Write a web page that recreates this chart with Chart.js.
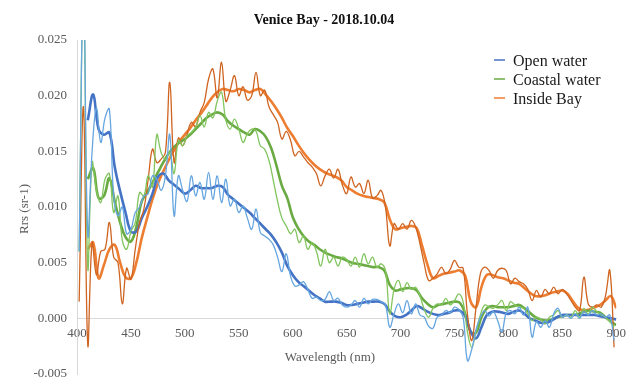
<!DOCTYPE html>
<html>
<head>
<meta charset="utf-8">
<script src="https://cdn.jsdelivr.net/npm/chart.js@4.4.1/dist/chart.umd.min.js"></script>
<style>
  html, body { margin: 0; padding: 0; background: #ffffff; }
  #chart { display: block; }
</style>
</head>
<body>
<canvas id="chart" width="633" height="379"></canvas>
<script>
// Wavelength grids (nm): raw spectra every 4 nm, smoothed spectra every 5 nm
const rawWave = [
  402,406,410,414,418,422,426,430,434,438,
  442,446,450,454,458,462,466,470,474,478,
  482,486,490,494,498,502,506,510,514,518,
  522,526,530,534,538,542,546,550,554,558,
  562,566,570,574,578,582,586,590,594,598,
  602,606,610,614,618,622,626,630,634,638,
  642,646,650,654,658,662,666,670,674,678,
  682,686,690,694,698,702,706,710,714,718,
  722,726,730,734,738,742,746,750,754,758,
  762,766,770,774,778,782,786,790,794,798,
  802,806,810,814,818,822,826,830,834,838,
  842,846,850,854,858,862,866,870,874,878,
  882,886,890,894,898
];
const smoothWave = [
  410,415,420,425,430,435,440,445,450,455,
  460,465,470,475,480,485,490,495,500,505,
  510,515,520,525,530,535,540,545,550,555,
  560,565,570,575,580,585,590,595,600,605,
  610,615,620,625,630,635,640,645,650,655,
  660,665,670,675,680,685,690,695,700,705,
  710,715,720,725,730,735,740,745,750,755,
  760,765,770,775,780,785,790,795,800,805,
  810,815,820,825,830,835,840,845,850,855,
  860,865,870,875,880,885,890,895,900
];

// Rrs (sr-1), raw spectra
const openRaw = [
  0.0060,0.0300,0.0075,0.0150,0.0189,0.0158,0.0180,0.0188,0.0110,0.0092,
  0.0100,0.0076,0.0080,0.0095,0.0100,0.0110,0.0112,0.0128,0.0125,0.0115,
  0.0128,0.0165,0.0092,0.0128,0.0115,0.0105,0.0128,0.0110,0.0122,0.0107,
  0.0131,0.0107,0.0128,0.0104,0.0125,0.0101,0.0107,0.0095,0.0101,0.0090,
  0.0080,0.0098,0.0077,0.0074,0.0071,0.0066,0.0055,0.0042,0.0058,0.0038,
  0.0029,0.0030,0.0033,0.0026,0.0018,0.0019,0.0016,0.0017,0.0024,0.0016,
  0.0018,0.0012,0.0010,0.0012,0.0016,0.0010,0.0018,0.0013,0.0017,0.0017,
  0.0015,0.0012,-0.0008,0.0004,0.0013,0.0005,0.0016,0.0004,0.0013,0.0003,
  0.0001,-0.0007,-0.0009,0.0001,0.0003,0.0007,0.0005,0.0010,0.0008,0.0001,
  -0.0038,-0.0028,-0.0010,0.0001,0.0007,0.0002,0.0006,-0.0002,-0.0012,0.0005,
  0.0007,0.0004,0.0010,0.0003,0.0010,-0.0017,-0.0003,-0.0008,-0.0002,-0.0008,
  0.0004,0.0009,0.0001,0.0003,0.0000,0.0004,0.0000,0.0006,0.0003,0.0007,
  0.0003,0.0004,0.0001,0.0003,-0.0020
];
const coastalRaw = [
  0.0060,0.0300,0.0045,0.0140,0.0115,0.0104,0.0125,0.0130,0.0095,0.0110,
  0.0070,0.0062,0.0078,0.0086,0.0113,0.0110,0.0128,0.0118,0.0165,0.0149,
  0.0143,0.0149,0.0130,0.0160,0.0155,0.0164,0.0167,0.0172,0.0182,0.0172,
  0.0185,0.0180,0.0195,0.0203,0.0178,0.0170,0.0179,0.0170,0.0158,0.0166,
  0.0170,0.0168,0.0155,0.0152,0.0142,0.0124,0.0105,0.0090,0.0083,0.0076,
  0.0080,0.0068,0.0074,0.0062,0.0068,0.0060,0.0047,0.0062,0.0050,0.0055,
  0.0047,0.0055,0.0053,0.0047,0.0055,0.0046,0.0058,0.0049,0.0055,0.0046,
  0.0049,0.0043,0.0004,0.0026,0.0034,0.0024,0.0032,0.0026,0.0028,0.0020,
  0.0008,0.0001,0.0009,0.0013,0.0012,0.0018,0.0012,0.0016,0.0022,0.0015,
  -0.0012,-0.0026,-0.0012,0.0003,0.0012,0.0010,0.0009,0.0012,0.0016,0.0007,
  0.0015,0.0012,0.0010,0.0009,0.0004,-0.0002,0.0001,-0.0001,-0.0005,0.0001,
  0.0003,0.0007,0.0001,0.0003,0.0001,0.0007,0.0001,0.0009,0.0004,0.0010,
  0.0006,0.0003,0.0001,-0.0003,-0.0008
];
const bayRaw = [
  0.0015,0.0190,-0.0024,0.0068,0.0039,0.0060,0.0062,0.0086,0.0055,0.0050,
  0.0013,0.0045,0.0035,0.0062,0.0086,0.0098,0.0125,0.0152,0.0140,0.0143,
  0.0149,0.0212,0.0140,0.0162,0.0155,0.0165,0.0176,0.0172,0.0185,0.0194,
  0.0215,0.0224,0.0198,0.0230,0.0195,0.0205,0.0218,0.0200,0.0208,0.0196,
  0.0200,0.0221,0.0200,0.0205,0.0190,0.0183,0.0176,0.0161,0.0168,0.0160,
  0.0146,0.0150,0.0145,0.0140,0.0136,0.0130,0.0119,0.0128,0.0134,0.0126,
  0.0134,0.0120,0.0112,0.0127,0.0118,0.0121,0.0112,0.0124,0.0108,0.0110,
  0.0115,0.0100,0.0065,0.0085,0.0080,0.0085,0.0080,0.0088,0.0082,0.0067,
  0.0049,0.0034,0.0036,0.0040,0.0046,0.0040,0.0044,0.0052,0.0046,0.0045,
  0.0004,-0.0020,0.0010,0.0040,0.0046,0.0043,0.0036,0.0043,0.0045,0.0043,
  0.0031,0.0036,0.0033,0.0031,0.0026,0.0016,0.0025,0.0019,0.0026,0.0022,
  0.0028,0.0022,0.0026,0.0022,0.0016,0.0010,0.0007,0.0037,0.0013,0.0010,
  0.0012,0.0010,0.0020,0.0043,-0.0026
];

// Rrs (sr-1), smoothed spectra
const openSmooth = [
  0.0178,0.0201,0.0170,0.0165,0.0167,0.0136,0.0114,0.0095,0.0078,0.0078,
  0.0090,0.0100,0.0112,0.0127,0.0130,0.0124,0.0120,0.0116,0.0112,0.0115,
  0.0119,0.0117,0.0117,0.0117,0.0119,0.0118,0.0111,0.0107,0.0103,0.0099,
  0.0095,0.0090,0.0085,0.0080,0.0075,0.0068,0.0059,0.0047,0.0039,0.0033,
  0.0029,0.0025,0.0021,0.0018,0.0015,0.0015,0.0015,0.0014,0.0012,0.0012,
  0.0013,0.0014,0.0015,0.0015,0.0015,0.0013,0.0006,0.0002,0.0001,0.0003,
  0.0007,0.0011,0.0009,0.0006,0.0004,0.0003,0.0004,0.0005,0.0007,0.0007,
  0.0002,-0.0012,-0.0018,-0.0008,0.0003,0.0006,0.0006,0.0005,0.0004,0.0006,
  0.0007,0.0004,0.0000,-0.0002,-0.0004,-0.0004,-0.0002,0.0001,0.0003,0.0003,
  0.0003,0.0003,0.0003,0.0003,0.0003,0.0002,0.0001,0.0000,-0.0001
];
const coastalSmooth = [
  0.0125,0.0135,0.0108,0.0110,0.0126,0.0105,0.0086,0.0073,0.0069,0.0082,
  0.0105,0.0113,0.0122,0.0131,0.0140,0.0148,0.0154,0.0158,0.0161,0.0165,
  0.0170,0.0175,0.0180,0.0183,0.0185,0.0183,0.0177,0.0173,0.0170,0.0167,
  0.0165,0.0170,0.0168,0.0163,0.0153,0.0137,0.0119,0.0108,0.0091,0.0081,
  0.0074,0.0069,0.0066,0.0062,0.0059,0.0057,0.0055,0.0054,0.0052,0.0050,
  0.0049,0.0048,0.0047,0.0046,0.0046,0.0043,0.0030,0.0025,0.0026,0.0027,
  0.0027,0.0025,0.0018,0.0013,0.0010,0.0012,0.0013,0.0014,0.0015,0.0014,
  0.0004,-0.0012,-0.0013,0.0001,0.0009,0.0011,0.0010,0.0010,0.0010,0.0011,
  0.0012,0.0009,0.0005,0.0001,-0.0001,-0.0002,-0.0001,0.0001,0.0002,0.0003,
  0.0003,0.0004,0.0006,0.0007,0.0006,0.0005,0.0001,-0.0003,-0.0006
];
const baySmooth = [
  0.0062,0.0068,0.0036,0.0048,0.0062,0.0066,0.0050,0.0037,0.0036,0.0050,
  0.0072,0.0090,0.0107,0.0121,0.0132,0.0142,0.0151,0.0159,0.0165,0.0171,
  0.0178,0.0184,0.0191,0.0198,0.0203,0.0206,0.0205,0.0204,0.0206,0.0205,
  0.0203,0.0205,0.0206,0.0201,0.0195,0.0188,0.0180,0.0171,0.0164,0.0156,
  0.0149,0.0143,0.0138,0.0134,0.0131,0.0129,0.0127,0.0124,0.0118,0.0115,
  0.0112,0.0110,0.0109,0.0108,0.0107,0.0104,0.0089,0.0080,0.0081,0.0082,
  0.0083,0.0081,0.0065,0.0048,0.0036,0.0038,0.0040,0.0041,0.0042,0.0043,
  0.0038,0.0015,0.0010,0.0028,0.0039,0.0039,0.0037,0.0036,0.0034,0.0032,
  0.0031,0.0027,0.0023,0.0020,0.0020,0.0021,0.0023,0.0024,0.0025,0.0022,
  0.0015,0.0009,0.0007,0.0008,0.0010,0.0012,0.0016,0.0020,0.0009
];

const seriesNames = ['Open water', 'Coastal water', 'Inside Bay'];
const yTicks = [-0.005, 0.000, 0.005, 0.010, 0.015, 0.020, 0.025];

const SERIF = '"Liberation Serif", "Times New Roman", serif';
const mainColors = ['#4472c4', '#6aaa42', '#ed7d31'];
const rawColors = ['#66a6e0', '#82c55e', '#cf6420'];

function pairs(xs, ys) { return xs.map((x, i) => ({ x: x, y: ys[i] })); }

const rawSets = [openRaw, coastalRaw, bayRaw];
const smoothSets = [openSmooth, coastalSmooth, baySmooth];

const datasets = [];
rawSets.forEach((vals, i) => {
  datasets.push({
    label: seriesNames[i] + ' (raw)',
    data: pairs(rawWave, vals),
    borderColor: rawColors[i],
    borderWidth: 1.3,
    pointRadius: 0,
    tension: 0.4,
    fill: false
  });
});
smoothSets.forEach((vals, i) => {
  datasets.push({
    label: seriesNames[i],
    data: pairs(smoothWave, vals),
    borderColor: mainColors[i],
    borderWidth: 2.6,
    pointRadius: 0,
    tension: 0.4,
    fill: false
  });
});

// Title, axis titles and legend drawn onto the canvas
const decorations = {
  id: 'decorations',
  afterDraw(chart) {
    const ctx = chart.ctx;
    ctx.save();
    ctx.fillStyle = '#111111';
    ctx.font = 'bold 14px ' + SERIF;
    ctx.textAlign = 'center';
    ctx.textBaseline = 'middle';
    ctx.fillText('Venice Bay - 2018.10.04', 324, 20);

    ctx.fillStyle = '#595959';
    ctx.font = '13px ' + SERIF;
    ctx.fillText('Wavelength (nm)', 330, 358);

    ctx.save();
    ctx.translate(25, 209);
    ctx.rotate(-Math.PI / 2);
    ctx.fillText('Rrs (sr-1)', 0, 0);
    ctx.restore();

    ctx.font = '16px ' + SERIF;
    ctx.textAlign = 'left';
    const legendY = [60, 79, 98];
    seriesNames.forEach((name, i) => {
      ctx.strokeStyle = mainColors[i];
      ctx.lineWidth = 1.5;
      ctx.beginPath();
      ctx.moveTo(494, legendY[i]);
      ctx.lineTo(505, legendY[i]);
      ctx.stroke();
      ctx.fillStyle = '#1a1a1a';
      ctx.fillText(name, 513, legendY[i] + 2);
    });
    ctx.restore();
  }
};

new Chart(document.getElementById('chart'), {
  type: 'line',
  data: { datasets: datasets },
  options: {
    responsive: false,
    animation: false,
    layout: { padding: { left: 0, right: 14, top: 40, bottom: 5 } },
    plugins: {
      legend: { display: false },
      title: { display: false },
      tooltip: { enabled: false }
    },
    scales: {
      x: {
        type: 'linear',
        position: { y: 0 },
        min: 400,
        max: 900,
        afterFit(scale) {
          scale.height = 0;
          scale.paddingTop = 0;
          scale.paddingBottom = 0;
        },
        ticks: {
          stepSize: 50,
          padding: 7,
          color: '#595959',
          font: { family: SERIF, size: 13 },
          maxRotation: 0
        },
        grid: { display: false, drawTicks: false },
        border: { display: true, color: '#d9d9d9', width: 1 }
      },
      y: {
        type: 'linear',
        min: -0.005,
        max: 0.025,
        afterBuildTicks(scale) { scale.ticks = yTicks.map(v => ({ value: v })); },
        afterFit(scale) {
          scale.width = 77;
          scale.paddingTop = 0;
          scale.paddingBottom = 0;
        },
        ticks: {
          padding: 10,
          color: '#595959',
          font: { family: SERIF, size: 13 },
          callback: v => v.toFixed(3)
        },
        grid: { display: false, drawTicks: false },
        border: { display: true, color: '#d9d9d9', width: 1 }
      }
    }
  },
  plugins: [decorations]
});
</script>
</body>
</html>
